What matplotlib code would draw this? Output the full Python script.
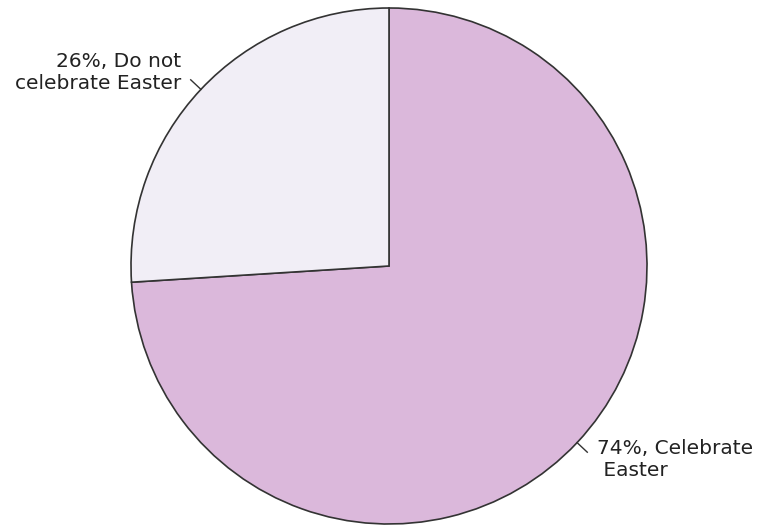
import numpy as np
import matplotlib
matplotlib.use("Agg")
import matplotlib.pyplot as plt

categories = ["Celebrate Easter", "Do not celebrate Easter"]
shares = [74, 26]
labels = ["74%, Celebrate\n Easter", "26%, Do not\ncelebrate Easter"]
colors = ["#dbb8db", "#f1eef6"]

W, H = 757, 525
fig = plt.figure(figsize=(W / 100, H / 100), dpi=100)
ax = fig.add_axes([0, 0, 1, 1])

cx, cy, r = 389, H - 266, 258
wedges, _ = ax.pie(
    shares, colors=colors, startangle=90, counterclock=False,
    center=(cx, cy), radius=r, frame=True,
    wedgeprops=dict(edgecolor="#333333", linewidth=1.2),
)
ax.set_xlim(0, W)
ax.set_ylim(0, H)
ax.set_aspect("equal")
ax.axis("off")

for w, lab in zip(wedges, labels):
    ang = np.deg2rad((w.theta1 + w.theta2) / 2)
    dx, dy = np.cos(ang), np.sin(ang)
    ax.plot([cx + r * dx, cx + (r + 14) * dx], [cy + r * dy, cy + (r + 14) * dy],
            color="#333333", lw=1.0)
    tx, ty = cx + (r + 27) * dx, cy + (r + 25) * dy
    ax.text(tx, ty, lab, ha="left" if dx > 0 else "right", va="center",
            multialignment="left" if dx > 0 else "right",
            fontsize=14.5, color="#222222", linespacing=1.22,
            family="DejaVu Sans")

fig.savefig("out.png", dpi=100)
